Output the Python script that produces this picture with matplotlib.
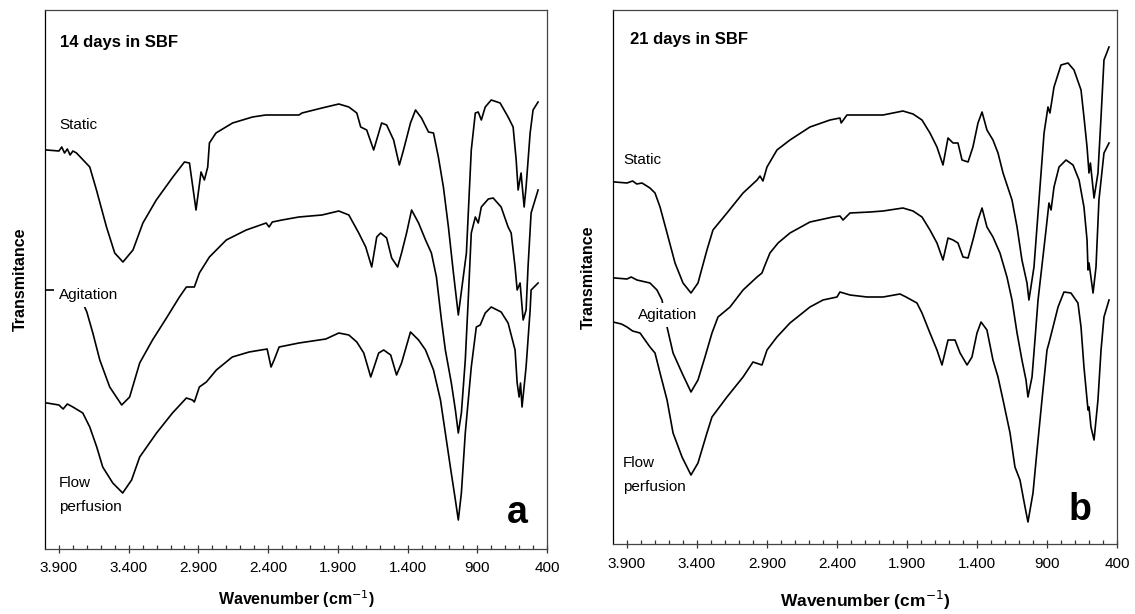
import matplotlib
matplotlib.use("Agg")
import matplotlib.pyplot as plt
from matplotlib.ticker import FixedLocator, FixedFormatter

plt.rcParams['font.family'] = ['Liberation Sans', 'DejaVu Sans']

# ---------------- data (wavenumber cm-1, transmittance a.u.) ----------------
# Panel a : 14 days in SBF
a_static_wn = [3995, 3988, 3900, 3880, 3860, 3840, 3820, 3800, 3774, 3679, 3631, 3559, 3500, 3441, 3369, 3298,
               3202, 3083, 3000, 2964, 2917, 2881, 2857, 2833, 2821, 2774, 2655, 2512, 2417, 2179,
               2157, 2014, 1893, 1821, 1764, 1736, 1693, 1643, 1607, 1586, 1550, 1500, 1459, 1429,
               1379, 1343, 1300, 1250, 1214, 1179, 1143, 1107, 1071, 1036, 978, 943, 914, 893, 871,
               843, 800, 736, 679, 643, 621, 607, 586, 564, 550, 521, 500, 464]
a_static_t = [399, 399, 398, 402, 396, 400, 394, 398, 396, 382, 359, 322, 296, 287, 299, 326,
              349, 372, 387, 386, 339, 377, 369, 382, 406, 416, 426, 432, 434, 434,
              436, 441, 445, 442, 436, 422, 419, 399, 416, 426, 424, 409, 384, 399,
              426, 439, 431, 417, 416, 392, 362, 322, 276, 234, 296, 399, 436, 437, 429,
              442, 449, 446, 432, 422, 389, 359, 376, 342, 362, 416, 439, 447]

a_agit_wn = [3995, 3943, 3821, 3750, 3700, 3657, 3607, 3536, 3450, 3393, 3321, 3229, 3129, 3036,
             2986, 2929, 2893, 2821, 2700, 2557, 2414, 2393, 2370, 2300, 2179, 2014, 1893, 1821,
             1750, 1700, 1657, 1621, 1593, 1550, 1514, 1471, 1443, 1407, 1371, 1321, 1271, 1229,
             1193, 1157, 1129, 1086, 1057, 1036, 1014, 986, 965, 943, 914, 893, 871, 821, 786,
             729, 679, 657, 629, 614, 593, 571, 550, 536, 514, 464]
a_agit_t = [259, 259, 257, 253, 237, 216, 189, 162, 144, 152, 186, 209, 231, 252,
            262, 262, 276, 292, 309, 319, 326, 322, 327, 329, 332, 334, 338, 334,
            316, 302, 282, 312, 316, 311, 291, 282, 296, 316, 339, 326, 309, 296,
            272, 229, 199, 166, 139, 116, 136, 189, 249, 316, 332, 326, 342, 350, 351,
            342, 322, 316, 282, 259, 266, 229, 239, 282, 336, 359]

a_flow_wn = [3995, 3986, 3900, 3870, 3840, 3800, 3729, 3679, 3629, 3586, 3514, 3443, 3379, 3321,
             3200, 3086, 2986, 2943, 2929, 2893, 2843, 2771, 2657, 2536, 2407, 2379, 2357, 2321,
             2179, 1986, 1893, 1821, 1764, 1714, 1664, 1607, 1571, 1521, 1479, 1443, 1379, 1321,
             1271, 1214, 1164, 1129, 1093, 1057, 1036, 1014, 986, 943, 907, 879, 843, 800, 729,
             679, 629, 614, 600, 590, 579, 550, 521, 514, 464]
a_flow_t = [146, 146, 144, 140, 145, 142, 136, 122, 102, 82, 66, 56, 69, 92,
            116, 136, 151, 149, 147, 162, 167, 179, 192, 197, 200, 182, 189, 202,
            206, 210, 216, 214, 207, 196, 172, 196, 199, 194, 174, 186, 217, 209,
            199, 179, 149, 116, 82, 49, 29, 56, 116, 182, 222, 224, 236, 242, 237,
            226, 199, 166, 152, 166, 142, 182, 239, 259, 266]

# Panel b : 21 days in SBF
b_static_wn = [3995, 3986, 3900, 3860, 3830, 3793, 3736, 3700, 3664, 3614, 3557, 3500, 3443, 3393,
               3329, 3286, 3186, 3071, 2971, 2950, 2929, 2900, 2829, 2736, 2593, 2450, 2379, 2370,
               2329, 2236, 2071, 1929, 1857, 1793, 1736, 1686, 1643, 1607, 1571, 1536, 1507, 1464,
               1429, 1393, 1364, 1329, 1286, 1250, 1214, 1150, 1114, 1079, 1043, 1029, 993, 957,
               921, 893, 879, 850, 800, 750, 707, 657, 636, 614, 600, 590, 564, 536, 514, 493, 457]
b_static_t = [362, 362, 361, 363, 360, 361, 356, 351, 337, 311, 281, 261, 251, 261,
              294, 314, 331, 351, 364, 368, 363, 377, 394, 404, 417, 424, 426, 421,
              429, 429, 429, 433, 430, 424, 411, 397, 379, 406, 401, 401, 384, 382,
              397, 421, 432, 414, 404, 391, 371, 344, 317, 284, 261, 244, 277, 344,
              411, 437, 431, 457, 479, 481, 474, 454, 427, 397, 371, 381, 346, 371, 427, 484, 497]

b_agit_wn = [3995, 3986, 3900, 3870, 3829, 3736, 3686, 3650, 3614, 3571, 3507, 3443, 3393, 3343,
             3293, 3250, 3164, 3071, 2971, 2936, 2914, 2879, 2821, 2736, 2593, 2429, 2379, 2357,
             2307, 2164, 2071, 1929, 1857, 1793, 1736, 1686, 1643, 1607, 1571, 1536, 1500, 1464,
             1429, 1393, 1364, 1329, 1286, 1236, 1186, 1150, 1114, 1079, 1050, 1036, 1007, 986,
             964, 907, 886, 871, 850, 814, 764, 714, 671, 636, 614, 607, 600, 571, 550, 529, 493, 457]
b_agit_t = [266, 266, 265, 267, 264, 261, 254, 244, 217, 191, 171, 152, 164, 187,
            211, 227, 237, 254, 267, 271, 279, 291, 301, 311, 322, 327, 328, 324,
            331, 332, 333, 336, 333, 327, 314, 301, 284, 306, 304, 301, 287, 286,
            304, 324, 336, 317, 307, 291, 267, 244, 211, 184, 164, 147, 167, 204,
            244, 314, 341, 334, 357, 377, 384, 379, 364, 337, 304, 274, 281, 251, 277, 344, 391, 401]

b_flow_wn = [4000, 3940, 3900, 3860, 3807, 3736, 3700, 3664, 3614, 3571, 3507, 3443, 3393, 3329,
             3293, 3186, 3071, 3000, 2936, 2900, 2829, 2736, 2593, 2500, 2400, 2379, 2307, 2186,
             2071, 1950, 1907, 1829, 1793, 1736, 1686, 1650, 1607, 1557, 1521, 1471, 1436, 1400,
             1371, 1329, 1286, 1250, 1214, 1164, 1129, 1093, 1057, 1036, 1000, 971, 936, 900,
             886, 857, 821, 779, 729, 679, 657, 636, 607, 600, 586, 564, 536, 514, 493, 457]
b_flow_t = [222, 220, 217, 213, 211, 197, 191, 171, 144, 111, 87, 69, 81, 111,
            127, 147, 167, 182, 179, 194, 207, 221, 237, 244, 247, 252, 249, 247,
            247, 250, 247, 241, 231, 211, 194, 179, 204, 204, 191, 179, 187, 211,
            222, 214, 184, 167, 144, 111, 77, 64, 37, 22, 51, 94, 144, 194,
            201, 217, 237, 252, 251, 241, 217, 177, 134, 137, 117, 104, 144, 194, 227, 244]

major_ticks = [3900, 3400, 2900, 2400, 1900, 1400, 900, 400]
major_labels = ['3.900', '3.400', '2.900', '2.400', '1.900', '1.400', '900', '400']
minor_ticks = [w for w in range(500, 4000, 100) if w not in major_ticks]

# ---------------- figure ----------------
fig = plt.figure(figsize=(11.35, 6.14), dpi=100)
W, H = 1135, 614

def px_axes(x0, y0, x1, y1):
    return fig.add_axes([x0 / W, 1 - y1 / H, (x1 - x0) / W, (y1 - y0) / H])

axA = px_axes(45, 10, 547, 549)
axB = px_axes(613, 10, 1117, 544)

lab_kw = dict(fontsize=11, ha='left', va='center', zorder=5)
box = dict(boxstyle='square,pad=0.3', fc='white', ec='none')

def style(ax, ymax, xlfs, xlpad):
    ax.set_xlim(4000, 400)
    ax.set_ylim(0, ymax)
    ax.xaxis.set_major_locator(FixedLocator(major_ticks))
    ax.xaxis.set_major_formatter(FixedFormatter(major_labels))
    ax.xaxis.set_minor_locator(FixedLocator(minor_ticks))
    ax.tick_params(axis='x', which='major', direction='inout', length=6, width=0.9,
                   color='#333333', labelsize=11, pad=6)
    ax.tick_params(axis='x', which='minor', direction='in', length=3, width=0.9, color='#333333')
    ax.set_yticks([])
    for s in ax.spines.values():
        s.set_linewidth(0.9)
        s.set_color('#444444')
    ax.spines['left'].set_color('black')
    ax.set_xlabel('Wavenumber (cm$^{-1}$)', fontsize=xlfs, fontweight='bold', labelpad=xlpad)
    ax.set_ylabel('Transmitance', fontsize=11.5, fontweight='bold', labelpad=12)

line_kw = dict(color='black', lw=1.2, zorder=3)

# Panel a
axA.plot(a_static_wn, a_static_t, **line_kw)
axA.plot(a_agit_wn, a_agit_t, **line_kw)
axA.plot(a_flow_wn, a_flow_t, **line_kw)
style(axA, 539, 11.5, 9)
axA.text(3893, 506, '14 days in SBF', fontsize=12, fontweight='bold', ha='left', va='center')
axA.text(3900, 424, 'Static', **lab_kw)
axA.text(3900, 254, 'Agitation', bbox=box, **lab_kw)
axA.text(3900, 66, 'Flow', **lab_kw)
axA.text(3900, 42, 'perfusion', **lab_kw)
axA.text(614, 36, 'a', fontsize=27, fontweight='bold', ha='center', va='center')

# Panel b
axB.plot(b_static_wn, b_static_t, **line_kw)
axB.plot(b_agit_wn, b_agit_t, **line_kw)
axB.plot(b_flow_wn, b_flow_t, **line_kw)
style(axB, 534, 12.5, 13)
axB.text(3879, 504, '21 days in SBF', fontsize=12, fontweight='bold', ha='left', va='center')
axB.text(3929, 384, 'Static', **lab_kw)
axB.text(3821, 229, 'Agitation', bbox=box, **lab_kw)
axB.text(3929, 81, 'Flow', **lab_kw)
axB.text(3929, 57, 'perfusion', **lab_kw)
axB.text(664, 34, 'b', fontsize=27, fontweight='bold', ha='center', va='center')

fig.savefig('out.png', dpi=100)
